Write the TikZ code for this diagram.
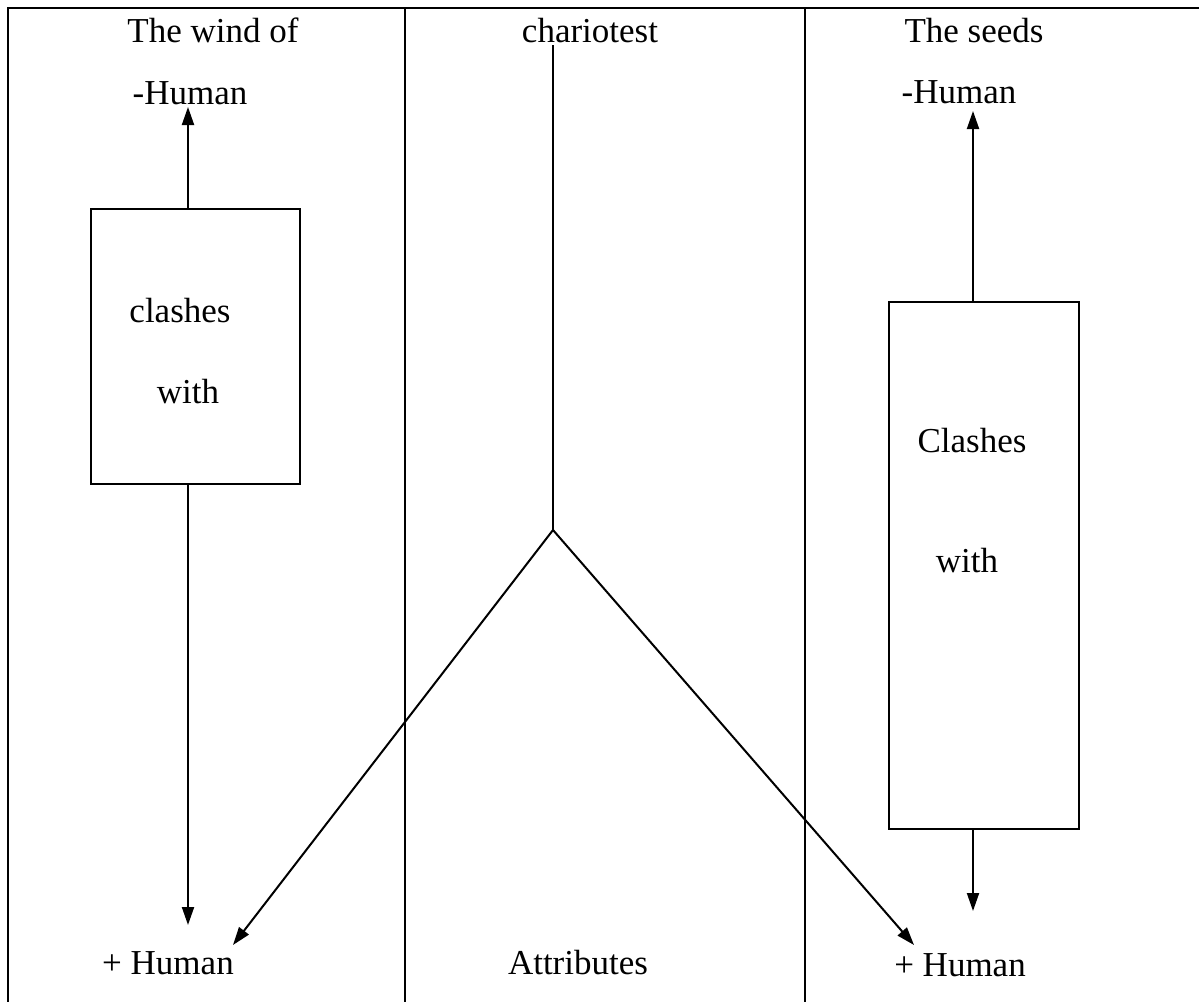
\documentclass[tikz,border=0pt]{standalone}
\usepackage{fontspec}
\setmainfont{Liberation Serif}
\usetikzlibrary{arrows.meta}
\begin{document}
\begin{tikzpicture}[x=1pt,y=-1pt,
  lbl/.style={anchor=base,inner sep=0pt,font=\fontsize{35}{42}\selectfont},
  boxn/.style={draw,line width=1.4pt,inner sep=0pt},
  frame/.style={line width=1.4pt},
  arr/.style={line width=2pt,-{Triangle[length=18pt,width=12pt]}},
  ln/.style={line width=2pt}]
\useasboundingbox (0,0) rectangle (1199,1001);
\clip (0,0) rectangle (1199,1001);
% frame
\draw[frame] (8,1010) -- (8,8) -- (1210,8);
\draw[frame] (405,8) -- (405,1010);
\draw[frame] (805,8) -- (805,1010);
% boxes
\node[boxn,minimum width=209pt,minimum height=275pt] (lbox) at (195.5,346.5) {};
\node[boxn,minimum width=190pt,minimum height=527pt] (rbox) at (984,565.5) {};
% labels
\node[lbl] (t1) at (213,42) {The wind of};
\node[lbl] (t2) at (590,42) {chariotest};
\node[lbl] (t3) at (974,42) {The seeds};
\node[lbl] (lmh) at (190,104) {-Human};
\node[lbl] (rmh) at (959,103) {-Human};
\node[lbl] (cl1) at (180,322) {clashes};
\node[lbl] (wl1) at (188,403) {with};
\node[lbl] (cl2) at (972,452) {Clashes};
\node[lbl] (wl2) at (967,572) {with};
\node[lbl] (lph) at (168,974) {+ Human};
\node[lbl] (att) at (578,974) {Attributes};
\node[lbl] (rph) at (960,976) {+ Human};
% coordinates
\coordinate (lup) at (188,107);
\coordinate (ldn) at (188,925);
\coordinate (rup) at (973,111);
\coordinate (rdn) at (973,911);
\coordinate (ctop) at (553,45);
\coordinate (fork) at (553,530);
\coordinate (ltip) at (233,945);
\coordinate (rtip) at (914,945);
% connectors
\draw[arr] (lbox.north -| lup) -- (lup);
\draw[arr] (lbox.south -| ldn) -- (ldn);
\draw[arr] (rbox.north -| rup) -- (rup);
\draw[arr] (rbox.south -| rdn) -- (rdn);
\draw[ln] (ctop) -- (fork);
\draw[arr] (fork) -- (ltip);
\draw[arr] (fork) -- (rtip);
\end{tikzpicture}
\end{document}
